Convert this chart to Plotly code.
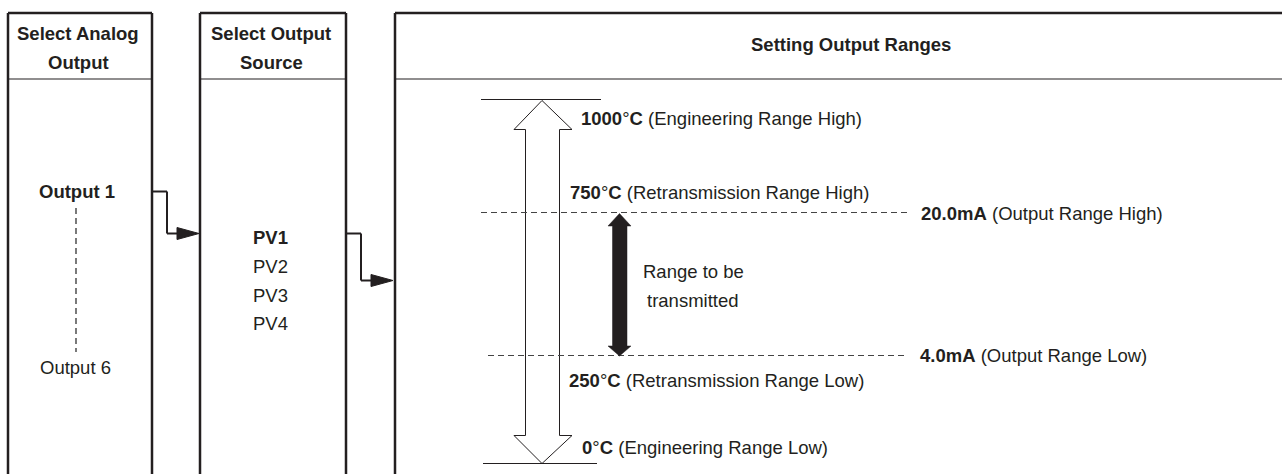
import plotly.graph_objects as go

# ---- content ----
step_titles = ["Select Analog<br>Output", "Select Output<br>Source", "Setting Output Ranges"]
outputs = ["Output 1", "Output 6"]
sources = ["PV1", "PV2", "PV3", "PV4"]
selected_source = "PV1"
temp_values = ["1000", "750", "250", "0"]
temp_names = ["Engineering Range High", "Retransmission Range High",
              "Retransmission Range Low", "Engineering Range Low"]
ma_values = ["20.0mA", "4.0mA"]
ma_names = ["Output Range High", "Output Range Low"]
range_label = ["Range to be", "transmitted"]

# ---- layout geometry (pixel space) ----
W, H = 1282, 474
FONT = "Liberation Sans, Arial, Helvetica, sans-serif"
INK = "#231f20"
FS = 18.5

boxes = [(8, 152), (200, 346), (395, 1300)]
box_top, header_y, box_bottom = 13, 79, 480
title_pos = [(78, [33, 62]), (271, [33, 62]), (851, [44])]

shapes = []
ann = []

def line(x0, y0, x1, y1, w=1, color=INK, dash=None):
    d = dict(type="line", x0=x0, y0=y0, x1=x1, y1=y1, xref="x", yref="y",
             line=dict(color=color, width=w))
    if dash:
        d["line"]["dash"] = dash
    shapes.append(d)

def poly(pts, fill, lw=1, lcolor=INK):
    p = "M " + " L ".join(f"{x},{y}" for x, y in pts) + " Z"
    shapes.append(dict(type="path", path=p, xref="x", yref="y",
                       fillcolor=fill, line=dict(color=lcolor, width=lw)))

def text(x, y, s, anchor="center", size=FS):
    ann.append(dict(x=x, y=y, xref="x", yref="y", text=s, showarrow=False,
                    xanchor=anchor, yanchor="middle", align="center",
                    font=dict(family=FONT, size=size, color=INK)))

# boxes
for (l, r) in boxes:
    line(l, box_top, l, box_bottom, w=2.5)
    line(r, box_top, r, box_bottom, w=2.5)
    line(l, box_top, r, box_top, w=2.5)
    line(l, header_y, r, header_y, w=1.2)

for (cx, ys), t in zip(title_pos, step_titles):
    parts = t.split("<br>")
    for y, p in zip(ys, parts):
        text(cx, y, f"<b>{p}</b>")

# outputs column
text(77, 191, f"<b>{outputs[0]}</b>")
line(76, 208, 76, 352, w=1.3, color="#333", dash="6px,4px")
text(75, 367, outputs[1])

# sources column
src_y = [237, 266, 295, 323]
for y, s in zip(src_y, sources):
    text(270, y, f"<b>{s}</b>" if s == selected_source else s)

# connector 1
line(152, 191.5, 167, 191.5, w=2)
line(167, 191.5, 167, 233.5, w=2)
line(167, 233.5, 180, 233.5, w=2)
poly([(177, 227.5), (199, 233.5), (177, 239.5)], INK)

# connector 2
line(346, 233.5, 361, 233.5, w=2)
line(361, 233.5, 361, 280.5, w=2)
line(361, 280.5, 374, 280.5, w=2)
poly([(371, 274.5), (393, 280.5), (371, 286.5)], INK)

# hollow double arrow (engineering range)
poly([(542, 100.5), (572, 129.5), (559.5, 129.5), (559.5, 435.5), (572, 435.5),
      (542, 463.5), (514, 435.5), (525.5, 435.5), (525.5, 129.5), (514, 129.5)],
     "white", lw=1)
line(481, 99.5, 601, 99.5, w=1.2)
line(483, 463.5, 597, 463.5, w=1.2)

# dashed retransmission lines
line(481, 212.5, 908, 212.5, w=1.1, color="#444", dash="6px,4px")
line(488, 355.5, 908, 355.5, w=1.1, color="#444", dash="6px,4px")

# black arrow (range to be transmitted)
poly([(619.5, 213.5), (631, 226), (627, 226), (627, 346), (631, 346),
      (619.5, 356), (608, 346), (612.5, 346), (612.5, 226), (608, 226)], INK, lw=0.5)
for y, s in zip([271, 300], range_label):
    text(693, y, s)

# temperature labels
temp_pos = [(579, 118), (568, 192), (567, 380), (580, 447)]
for (x, y), v, n in zip(temp_pos, temp_values, temp_names):
    text(x, y, f"<b>{v}</b>°<b>C</b> ({n})", anchor="left")

# mA labels
ma_pos = [(919, 213), (918, 355)]
for (x, y), v, n in zip(ma_pos, ma_values, ma_names):
    text(x, y, f"<b>{v}</b> ({n})", anchor="left")

fig = go.Figure()
fig.update_layout(
    width=W, height=H, margin=dict(l=0, r=0, t=0, b=0),
    paper_bgcolor="white", plot_bgcolor="white",
    xaxis=dict(range=[0, W], visible=False, fixedrange=True),
    yaxis=dict(range=[H, 0], visible=False, fixedrange=True),
    shapes=shapes, annotations=ann, showlegend=False,
)
fig.write_html("out.html", config={"displayModeBar": False, "staticPlot": True},
               post_script="document.body.style.margin='0';document.body.style.overflow='hidden';")
